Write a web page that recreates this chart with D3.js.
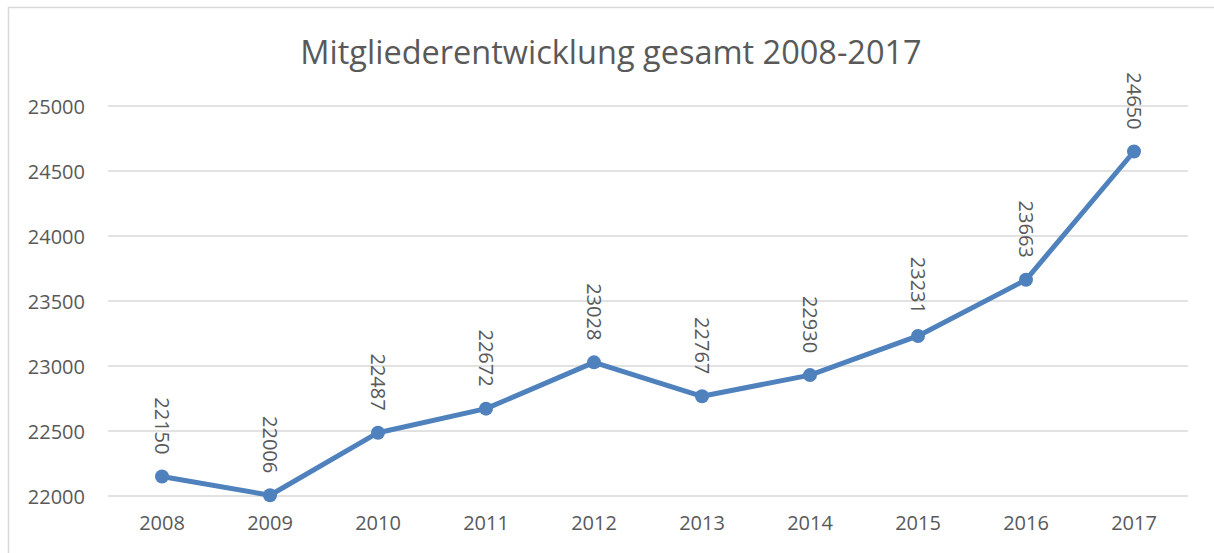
<!DOCTYPE html>
<html>
<head>
<meta charset="utf-8">
<script src="https://cdn.jsdelivr.net/npm/d3@7"></script>
<style>
  html, body { margin: 0; padding: 0; background: #fff; }
  svg { display: block; }
  text { font-family: "Open Sans", "Liberation Sans", sans-serif; fill: #595959; }
</style>
</head>
<body>
<svg id="chart" width="1214" height="553"></svg>
<script>
const title = "Mitgliederentwicklung gesamt 2008-2017";
const years = ["2008", "2009", "2010", "2011", "2012", "2013", "2014", "2015", "2016", "2017"];
const members = [22150, 22006, 22487, 22672, 23028, 22767, 22930, 23231, 23663, 24650];
const yTicks = [22000, 22500, 23000, 23500, 24000, 24500, 25000];

const svg = d3.select("#chart");

// outer chart frame
svg.append("rect")
  .attr("x", 8.5).attr("y", 7.5)
  .attr("width", 1212).attr("height", 560)
  .attr("fill", "#fff").attr("stroke", "#d9d9d9").attr("stroke-width", 1.5);

const plot = { left: 108, right: 1188, top: 106, bottom: 496 };

const x = d3.scaleBand().domain(years).range([plot.left, plot.right]);
const y = d3.scaleLinear().domain([22000, 25000]).range([plot.bottom, plot.top]);

// title
svg.append("text")
  .attr("x", 611).attr("y", 64)
  .attr("text-anchor", "middle")
  .style("font-size", "32.5px")
  .text(title);

// gridlines
svg.append("g")
  .selectAll("line").data(yTicks).join("line")
  .attr("x1", plot.left).attr("x2", plot.right)
  .attr("y1", d => y(d)).attr("y2", d => y(d))
  .attr("stroke", "#d9d9d9").attr("stroke-width", 1.5);

// y axis
const yAxis = svg.append("g")
  .attr("transform", `translate(${plot.left},0)`)
  .call(d3.axisLeft(y).tickValues(yTicks).tickSize(0).tickPadding(23).tickFormat(d3.format("d")));
yAxis.select(".domain").remove();
yAxis.selectAll("text").style("font-size", "20px").attr("fill", "#595959").attr("dy", "0.35em");

// x axis
const xAxis = svg.append("g")
  .attr("transform", `translate(0,${plot.bottom})`)
  .call(d3.axisBottom(x).tickSize(0).tickPadding(20));
xAxis.select(".domain").remove();
xAxis.selectAll("text").style("font-size", "20px").attr("fill", "#595959").attr("dy", "0.71em");

const cx = d => x(d) + x.bandwidth() / 2;
const pts = years.map((yr, i) => ({ yr, v: members[i] }));

// line
svg.append("path")
  .datum(pts)
  .attr("fill", "none")
  .attr("stroke", "#4f81bd")
  .attr("stroke-width", 5)
  .attr("stroke-linejoin", "round")
  .attr("d", d3.line().x(d => cx(d.yr)).y(d => y(d.v)));

// markers
svg.append("g")
  .selectAll("circle").data(pts).join("circle")
  .attr("cx", d => cx(d.yr)).attr("cy", d => y(d.v))
  .attr("r", 7)
  .attr("fill", "#4f81bd");

// data labels (rotated)
svg.append("g")
  .selectAll("text").data(pts).join("text")
  .attr("transform", d => `translate(${cx(d.yr)},${y(d.v) - 22}) rotate(90)`)
  .attr("text-anchor", "end")
  .attr("dy", "0.35em")
  .style("font-size", "20px")
  .text(d => d.v);
</script>
</body>
</html>
